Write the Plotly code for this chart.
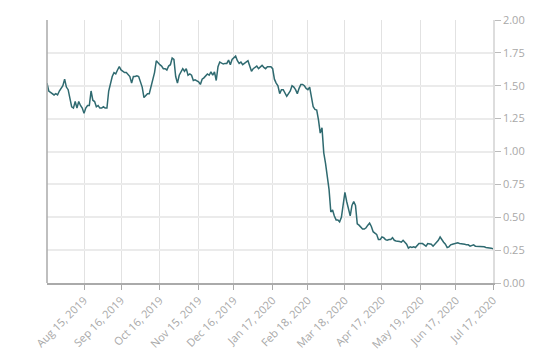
import pandas as pd
import plotly.graph_objects as go

# Trading-day calendar (categories)
holidays = ["2019-09-02", "2019-11-28", "2019-12-25", "2020-01-01", "2020-01-20",
            "2020-02-17", "2020-04-10", "2020-05-25", "2020-07-03"]
dates = [d.strftime("%Y-%m-%d") for d in pd.bdate_range("2019-07-17", "2020-07-17")
         if d.strftime("%Y-%m-%d") not in holidays]

values = [
    1.52, 1.46, 1.45, 1.44, 1.43, 1.44, 1.43, 1.46, 1.48, 1.50,
    1.55, 1.49, 1.47, 1.41, 1.34, 1.33, 1.38, 1.33, 1.38, 1.35,
    1.33, 1.29, 1.33, 1.35, 1.35, 1.46, 1.39, 1.38, 1.34, 1.35,
    1.33, 1.33, 1.34, 1.33, 1.33, 1.46, 1.53, 1.57, 1.60, 1.59,
    1.62, 1.645, 1.62, 1.61, 1.60, 1.60, 1.58, 1.57, 1.52, 1.57,
    1.57, 1.575, 1.57, 1.53, 1.49, 1.41, 1.43, 1.44, 1.44, 1.49,
    1.55, 1.60, 1.69, 1.67, 1.66, 1.65, 1.63, 1.63, 1.62, 1.65,
    1.66, 1.71, 1.70, 1.57, 1.52, 1.58, 1.60, 1.63, 1.61, 1.63,
    1.58, 1.59, 1.58, 1.54, 1.545, 1.54, 1.53, 1.51, 1.55, 1.56,
    1.58, 1.59, 1.58, 1.605, 1.58, 1.605, 1.54, 1.645, 1.68, 1.67,
    1.665, 1.67, 1.67, 1.695, 1.66, 1.70, 1.71, 1.725, 1.69, 1.67,
    1.68, 1.66, 1.67, 1.68, 1.69, 1.65, 1.61, 1.63, 1.64, 1.65,
    1.63, 1.64, 1.655, 1.64, 1.63, 1.645, 1.645, 1.645, 1.63, 1.55,
    1.52, 1.50, 1.44, 1.47, 1.47, 1.44, 1.42, 1.44, 1.46, 1.50,
    1.49, 1.47, 1.44, 1.48, 1.51, 1.51, 1.50, 1.48, 1.47, 1.49,
    1.42, 1.34, 1.32, 1.315, 1.24, 1.14, 1.18, 0.99, 0.91, 0.81,
    0.71, 0.54, 0.555, 0.51, 0.48, 0.48, 0.465, 0.50, 0.61, 0.69,
    0.62, 0.57, 0.51, 0.59, 0.62, 0.59, 0.45, 0.44, 0.42, 0.41,
    0.41, 0.42, 0.44, 0.455, 0.43, 0.39, 0.38, 0.37, 0.33, 0.33,
    0.35, 0.345, 0.33, 0.325, 0.33, 0.33, 0.345, 0.325, 0.32, 0.32,
    0.315, 0.31, 0.325, 0.31, 0.295, 0.265, 0.275, 0.27, 0.275, 0.27,
    0.29, 0.30, 0.30, 0.30, 0.29, 0.28, 0.30, 0.30, 0.295, 0.28,
    0.295, 0.31, 0.325, 0.35, 0.325, 0.31, 0.295, 0.27, 0.275, 0.29,
    0.295, 0.30, 0.30, 0.305, 0.30, 0.30, 0.30, 0.295, 0.29, 0.29,
    0.28, 0.285, 0.29, 0.28, 0.28, 0.28, 0.275, 0.275, 0.275, 0.27,
    0.27, 0.27, 0.265, 0.26,
]
n = min(len(dates), len(values))
dates = dates[:n]
values = values[:n]

tick_dates = ["2019-08-15", "2019-09-16", "2019-10-16", "2019-11-15", "2019-12-16",
              "2020-01-17", "2020-02-18", "2020-03-18", "2020-04-17", "2020-05-19",
              "2020-06-17", "2020-07-17"]
tick_labels = ["Aug 15, 2019", "Sep 16, 2019", "Oct 16, 2019", "Nov 15, 2019",
               "Dec 16, 2019", "Jan 17, 2020", "Feb 18, 2020", "Mar 18, 2020",
               "Apr 17, 2020", "May 19, 2020", "Jun 17, 2020", "Jul 17, 2020"]
y_ticks = [0, 0.25, 0.5, 0.75, 1.0, 1.25, 1.5, 1.75, 2.0]

fig = go.Figure()
fig.add_trace(go.Scatter(x=dates, y=values, mode="lines",
                         line=dict(color="#2f6a70", width=1.5),
                         hoverinfo="skip", showlegend=False))

fig.update_layout(
    width=547, height=352,
    margin=dict(l=47, r=54, t=20, b=69),
    paper_bgcolor="white", plot_bgcolor="white",
    font=dict(family="Open Sans", size=11, color="#a8a8a8"),
    xaxis=dict(type="category", range=[0, n - 1], automargin=False,
               tickmode="array", tickvals=tick_dates, ticktext=tick_labels,
               tickangle=-45, ticks="outside", ticklen=5, tickcolor="#aaaaaa",
               showgrid=True, gridcolor="#e2e2e2", gridwidth=1,
               showline=True, linecolor="#aaaaaa", linewidth=1.5,
               zeroline=False, fixedrange=True),
    yaxis=dict(side="right", range=[0, 2], tickmode="array", tickvals=y_ticks,
               automargin=False,
               tickformat=".2f", ticks="outside", ticklen=6, tickcolor="#bbbbbb",
               showgrid=True, gridcolor="#ebebeb", gridwidth=1.5,
               showline=True, linecolor="#dddddd", linewidth=1.5,
               zeroline=False, fixedrange=True),
    shapes=[dict(type="line", xref="paper", yref="paper", x0=0, x1=0, y0=0, y1=1,
                 line=dict(color="#aaaaaa", width=1.5))],
)

fig.write_html("out.html")
